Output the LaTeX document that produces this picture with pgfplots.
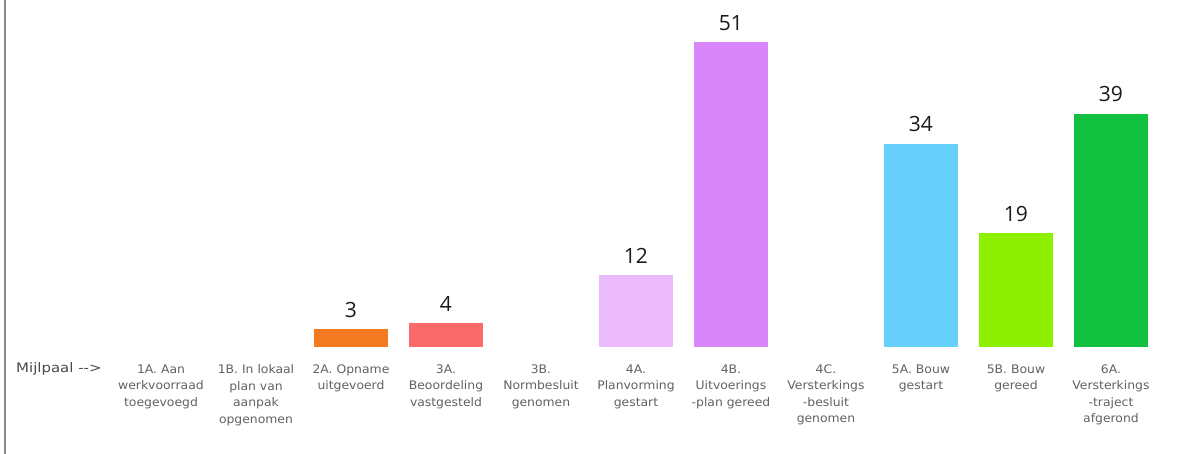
\documentclass[border=0pt]{standalone}
\usepackage{fontspec}
\usepackage{pgfplots}
\pgfplotsset{compat=1.18}
\newfontfamily\lblfont{DejaVu Sans}[FakeStretch=1.05]
\newfontfamily\mijlfont{DejaVu Sans}[FakeStretch=1.15]
\newfontfamily\valfont{Open Sans}
\definecolor{lblgray}{HTML}{626262}
\definecolor{mijlgray}{HTML}{4A4A4A}
\definecolor{c2A}{HTML}{F47A22}
\definecolor{c3A}{HTML}{FA6A6A}
\definecolor{c4A}{HTML}{EBBBFB}
\definecolor{c4B}{HTML}{D787FA}
\definecolor{c5A}{HTML}{66CFFA}
\definecolor{c5B}{HTML}{8CF000}
\definecolor{c6A}{HTML}{12C13F}
\begin{document}
\begin{tikzpicture}
\useasboundingbox (0,0) rectangle (1177pt,454pt);
\fill[white] (0,0) rectangle (1177pt,454pt);
\draw[color={rgb,255:red,138;green,138;blue,138}, line width=2pt] (4.5pt,0) -- (4.5pt,454pt);
\begin{axis}[
  at={(5pt,107pt)}, anchor=south west,
  scale only axis, width=1172pt, height=346.8pt,
  xmin=-1.642, xmax=10.695, ymin=0, ymax=58,
  axis x line=bottom, x axis line style={draw=none},
  hide y axis,
  major tick length=0pt,
  xtick={0,...,10},
  xticklabels={
    {1A. Aan\\werkvoorraad\\toegevoegd},
    {1B. In lokaal\\plan van\\aanpak\\opgenomen},
    {2A. Opname\\uitgevoerd},
    {3A.\\Beoordeling\\vastgesteld},
    {3B.\\Normbesluit\\genomen},
    {4A.\\Planvorming\\gestart},
    {4B.\\Uitvoerings\\-plan gereed},
    {4C.\\Versterkings\\-besluit\\genomen},
    {5A. Bouw\\gestart},
    {5B. Bouw\\gereed},
    {6A.\\Versterkings\\-traject\\afgerond}},
  xticklabel style={anchor=north, inner sep=0pt, yshift=-17.5pt, align=center,
    font=\lblfont\fontsize{11.8}{16.5}\selectfont, text=lblgray},
  nodes near coords,
  /pgf/number format/assume math mode=true,
  nodes near coords style={anchor=base, inner sep=0pt, yshift=12pt,
    font=\valfont\fontsize{21}{21}\selectfont, text={rgb,255:red,26;green,26;blue,26}},
  clip=false,
]
\addplot[ybar, bar width=74pt, bar shift=0pt, fill=c2A, draw=none] coordinates {(2,3)};
\addplot[ybar, bar width=74pt, bar shift=0pt, fill=c3A, draw=none] coordinates {(3,4)};
\addplot[ybar, bar width=74pt, bar shift=0pt, fill=c4A, draw=none] coordinates {(5,12)};
\addplot[ybar, bar width=74pt, bar shift=0pt, fill=c4B, draw=none] coordinates {(6,51)};
\addplot[ybar, bar width=74pt, bar shift=0pt, fill=c5A, draw=none] coordinates {(8,34)};
\addplot[ybar, bar width=74pt, bar shift=0pt, fill=c5B, draw=none] coordinates {(9,19)};
\addplot[ybar, bar width=74pt, bar shift=0pt, fill=c6A, draw=none] coordinates {(10,39)};
\end{axis}
\node[anchor=base west, inner sep=0pt, font=\mijlfont\fontsize{13}{13}\selectfont, text=mijlgray] at (16pt,81pt) {Mijlpaal -{}-{}>};
\end{tikzpicture}
\end{document}
